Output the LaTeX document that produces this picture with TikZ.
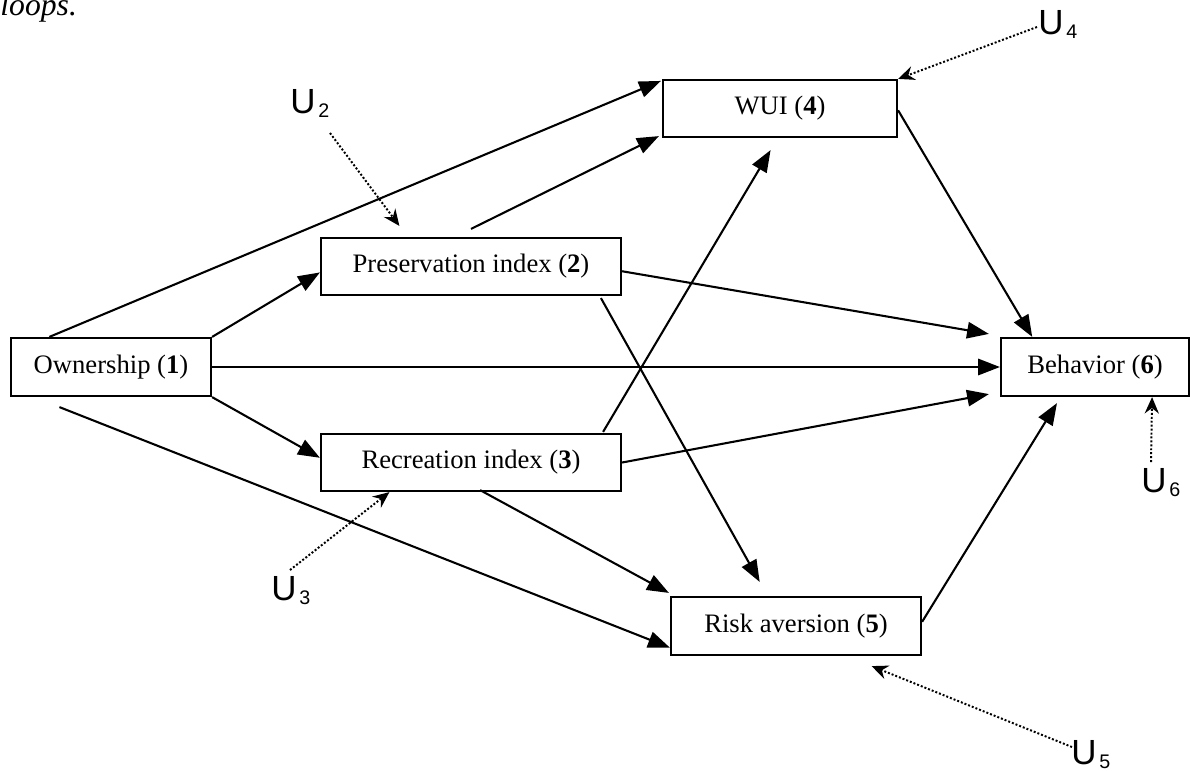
\documentclass[tikz,border=0pt]{standalone}
\usepackage{fontspec}
\setmainfont{Liberation Serif}
\newfontfamily\labelfont{Liberation Sans}
\usetikzlibrary{arrows.meta,calc}

\begin{document}
\begin{tikzpicture}[x=0.458pt,y=-0.458pt,
  var/.style 2 args={draw,line width=1pt,rectangle,inner sep=0pt,
    minimum width={#1*0.458pt},minimum height={#2*0.458pt},
    font=\fontsize{12.2}{14}\selectfont},
  effect/.style={line width=0.95pt,-{Triangle[length=10pt,width=7.5pt]}},
  noise/.style={line width=0.9pt,dash pattern=on 0.9pt off 0.9pt,
    -{Stealth[length=7.5pt,width=6.5pt,inset=2.5pt]}},
  errlabel/.style={font=\labelfont\fontsize{16}{18}\selectfont,inner sep=0pt,anchor=base west}]
\newcommand\errsub[1]{\hspace{1.2pt}\raisebox{-2pt}{\fontsize{9}{9}\selectfont #1}}
\useasboundingbox (0,0) rectangle (1190,770);
\clip (0,0) rectangle (1190,770);

% caption fragment at the top
\node[font=\itshape\fontsize{14.5}{16}\selectfont,anchor=base west,inner sep=0pt] (caption) at (0,15) {loops.};

% variables
\node[var={200}{58}] (own)  at (111,367)   {Ownership (\textbf{1})};
\node[var={300}{57}] (pres) at (471,266.5) {Preservation index (\textbf{2})};
\node[var={300}{57}] (recr) at (471,462.5) {Recreation index (\textbf{3})};
\node[var={234}{57}] (wui)  at (780,108.5) {WUI (\textbf{4})};
\node[var={250}{58}] (risk) at (796,626)   {Risk aversion (\textbf{5})};
\node[var={188}{58}] (beh)  at (1095,367)  {Behavior (\textbf{6})};

% disturbance terms
\node[errlabel] (u2) at (290,113) {U\errsub{2}};
\node[errlabel] (u3) at (271,600) {U\errsub{3}};
\node[errlabel] (u4) at (1038,34) {U\errsub{4}};
\node[errlabel] (u5) at (1071,764) {U\errsub{5}};
\node[errlabel] (u6) at (1141,492) {U\errsub{6}};
\coordinate (u2s) at (330,133);
\coordinate (u3s) at (290,570);
\coordinate (u4s) at (1037,27);
\coordinate (u5s) at (1072,747);
\coordinate (u6s) at (1151,462);

% structural paths
\draw[effect] ($(own.north west)!0.195!(own.north east)$) -- ($(wui.north west)+(-1,2)$);
\draw[effect] (own.north east) -- ($(pres.north west)!0.6!(pres.south west)$);
\draw[effect] (own.east) -- (beh.west);
\draw[effect] (own.south east) -- ($(recr.north west)!0.42!(recr.south west)$);
\draw[effect] ($(own.south west)!0.245!(own.south east)+(0,10)$) -- ($(risk.north west)!0.86!(risk.south west)$);

\draw[effect] ($(pres.north)+(0,-8)$) -- ($(wui.south west)+(-3,-2)$);
\draw[effect] ($(pres.north east)!0.58!(pres.south east)$) -- ($(beh.north west)+(-11,-3)$);
\draw[effect] ($(pres.south west)!0.93!(pres.south east)+(0,2)$) -- ($(risk.north west)!0.356!(risk.north east)+(0,-14)$);

\draw[effect] ($(recr.north west)!0.937!(recr.north east)+(0,-1)$) -- ($(wui.south west)!0.46!(wui.south east)+(0,12)$);
\draw[effect] (recr.east) -- ($(beh.south west)+(-11,-3)$);
\draw[effect] ($(recr.south west)!0.53!(recr.south east)+(0,-2)$) -- ($(risk.north west)+(-1,-3)$);

\draw[effect] ($(wui.north east)!0.53!(wui.south east)$) -- ($(beh.north west)!0.17!(beh.north east)$);
\draw[effect] ($(risk.north east)!0.43!(risk.south east)$) -- ($(beh.south west)!0.30!(beh.south east)+(0,6)$);

% disturbances
\draw[noise] (u2s) -- ($(pres.north west)!0.263!(pres.north east)+(0,-11)$);
\draw[noise] (u3s) -- ($(recr.south west)!0.23!(recr.south east)$);
\draw[noise] (u4s) -- (wui.north east);
\draw[noise] (u5s) -- ($(risk.south west)!0.80!(risk.south east)+(0,10)$);
\draw[noise] (u6s) -- ($(beh.south west)!0.80!(beh.south east)$);
\end{tikzpicture}
\end{document}
